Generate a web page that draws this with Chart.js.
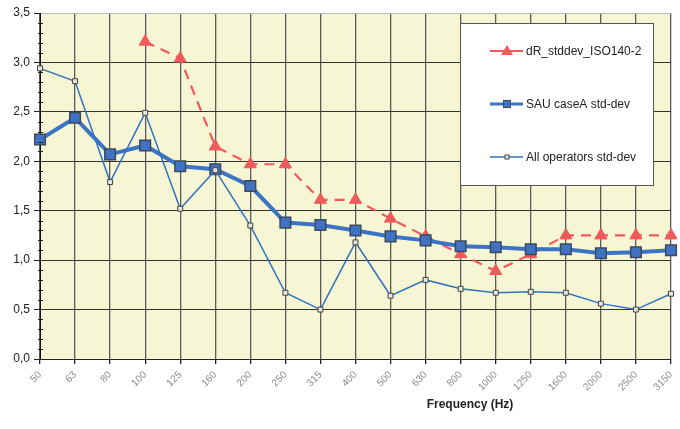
<!DOCTYPE html>
<html>
<head>
<meta charset="utf-8">
<script src="https://cdn.jsdelivr.net/npm/chart.js@4.4.0/dist/chart.umd.min.js"></script>
<style>
html,body{margin:0;padding:0;background:#fff;}
#wrap{width:680px;height:429px;position:relative;}
</style>
</head>
<body>
<div id="wrap"><canvas id="c" width="680" height="429"></canvas></div>
<script>
const categories = ['50','63','80','100','125','160','200','250','315','400','500','630','800','1000','1250','1600','2000','2500','3150'];
const dRStddev = [null,null,null,3.21,3.04,2.15,1.97,1.97,1.61,1.61,1.42,1.24,1.06,0.89,1.06,1.25,1.25,1.25,1.25];
const sauCaseA = [2.22,2.44,2.07,2.16,1.95,1.92,1.75,1.38,1.355,1.30,1.24,1.20,1.14,1.13,1.11,1.11,1.07,1.08,1.10];
const allOperators = [2.94,2.81,1.79,2.49,1.52,1.91,1.35,0.67,0.50,1.18,0.64,0.80,0.71,0.67,0.68,0.67,0.56,0.50,0.66];
const yTicks = [0,0.5,1,1.5,2,2.5,3,3.5];
const seriesNames = ['dR_stddev_ISO140-2','SAU caseA std-dev','All operators std-dev'];
const xTitle = 'Frequency (Hz)';

const RED = '#f05a5a', BLUE = '#3b74c2', BLUE2 = '#2f72c0';

const bgPlugin = {
  id: 'bg',
  beforeDraw(chart) {
    const {ctx, chartArea: a} = chart;
    ctx.save();
    ctx.fillStyle = '#f7f6d4';
    ctx.fillRect(a.left, a.top, a.right - a.left, a.bottom - a.top);
    ctx.restore();
  },
  afterDraw(chart) {
    const {ctx, chartArea: a} = chart;
    const ys = chart.scales.y;
    ctx.save();
    ctx.strokeStyle = '#222';
    ctx.lineWidth = 1;
    for (let i = 0; i <= 35; i++) {
      if (i % 5 === 0) continue;
      const py = Math.round(ys.getPixelForValue(i / 10)) + 0.5;
      ctx.beginPath();
      ctx.moveTo(a.left - 2, py);
      ctx.lineTo(a.left + 3, py);
      ctx.stroke();
    }
    ctx.fillStyle = '#222';
    ctx.font = 'bold 12px "Liberation Sans", Arial, sans-serif';
    ctx.textAlign = 'center';
    ctx.textBaseline = 'middle';
    ctx.fillText(xTitle, 470, 405);
    const bx = 460, by = 23, bw = 193, bh = 162;
    ctx.fillStyle = '#fff';
    ctx.fillRect(bx, by, bw, bh);
    ctx.strokeStyle = '#555';
    ctx.lineWidth = 1;
    ctx.strokeRect(bx + 0.5, by + 0.5, bw, bh);
    const rows = [51, 104, 157];
    ctx.font = '12px "Liberation Sans", Arial, sans-serif';
    ctx.textAlign = 'left';
    [0, 1, 2].forEach((di, k) => {
      const ds = chart.data.datasets[di];
      const y = rows[k];
      ctx.strokeStyle = ds.borderColor;
      ctx.lineWidth = Math.min(ds.borderWidth, 3);
      ctx.setLineDash([]);
      ctx.beginPath();
      ctx.moveTo(490, y); ctx.lineTo(523, y);
      ctx.stroke();
      ctx.fillStyle = ds.pointBackgroundColor;
      ctx.strokeStyle = ds.pointBorderColor;
      ctx.lineWidth = 1;
      if (ds.pointStyle === 'triangle') {
        ctx.beginPath();
        ctx.moveTo(507, y - 6); ctx.lineTo(513, y + 4); ctx.lineTo(501, y + 4);
        ctx.closePath(); ctx.fill();
      } else {
        const s = di === 1 ? 7 : 4;
        ctx.fillRect(507 - s / 2, y - s / 2, s, s);
        ctx.strokeRect(507 - s / 2, y - s / 2, s, s);
      }
      ctx.fillStyle = '#222';
      ctx.fillText(ds.label, 526, y + 1);
    });
    ctx.restore();
  }
};

new Chart(document.getElementById('c'), {
  type: 'line',
  data: {
    labels: categories,
    datasets: [
      {
        label: seriesNames[0], data: dRStddev, order: 3,
        borderColor: RED, borderWidth: 2.2, borderDash: [10, 7],
        pointStyle: 'triangle', pointRadius: 7, pointBackgroundColor: RED, pointBorderColor: RED, pointBorderWidth: 1,
        tension: 0, spanGaps: false
      },
      {
        label: seriesNames[1], data: sauCaseA, order: 2,
        borderColor: BLUE, borderWidth: 4,
        pointStyle: 'rect', pointRadius: 7.5, pointBackgroundColor: '#3f72c4', pointBorderColor: '#3c4a5c', pointBorderWidth: 1.5,
        tension: 0
      },
      {
        label: seriesNames[2], data: allOperators, order: 1,
        borderColor: BLUE2, borderWidth: 1.5,
        pointStyle: 'rect', pointRadius: 3.5, pointBackgroundColor: '#e6e6dc', pointBorderColor: '#444', pointBorderWidth: 1,
        tension: 0
      }
    ]
  },
  options: {
    responsive: false,
    animation: false,
    layout: { padding: { top: 13, right: 5, left: 0, bottom: 0 } },
    plugins: { legend: { display: false }, tooltip: { enabled: false }, title: { display: false } },
    scales: {
      x: {
        type: 'category', offset: false,
        grid: { color: '#5a5a5a', lineWidth: 1.3, tickLength: 5, tickColor: '#222', drawTicks: true },
        border: { color: '#222', width: 1 },
        ticks: {
          autoSkip: false, minRotation: 45, maxRotation: 45, padding: 5,
          color: '#8a8a8a', font: { family: '"Liberation Sans", Arial, sans-serif', size: 10 }
        },
        afterFit(s) { s.height = 70; s.paddingRight = 0; s.paddingLeft = 0; }
      },
      y: {
        min: 0, max: 3.5,
        afterBuildTicks(s) { s.ticks = yTicks.map(v => ({ value: v })); },
        grid: { color: (c) => c.tick && c.tick.value === 3.5 ? '#bbb' : '#333', lineWidth: 1, tickLength: 6, tickColor: '#222' },
        border: { color: '#111', width: 1 },
        ticks: {
          padding: 4, color: '#222',
          font: { family: '"Liberation Sans", Arial, sans-serif', size: 12 },
          callback: (v) => Number(v).toFixed(1).replace('.', ',')
        },
        afterFit(s) { s.width = 40; s.paddingTop = 0; s.paddingBottom = 0; }
      }
    }
  },
  plugins: [bgPlugin]
});
</script>
</body>
</html>
